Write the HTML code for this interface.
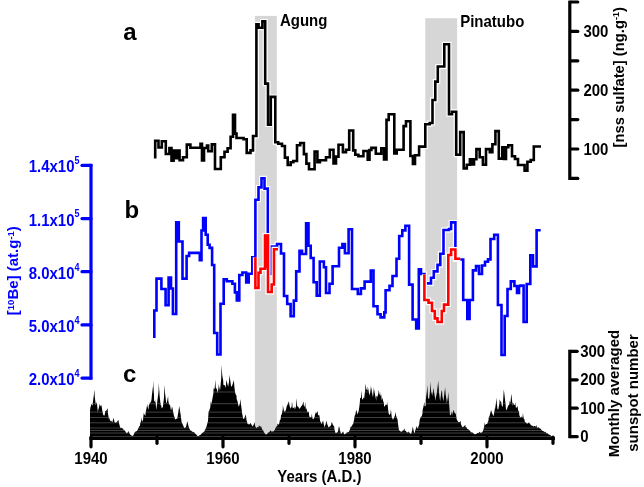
<!DOCTYPE html><html><head><meta charset="utf-8"><style>
html,body{margin:0;padding:0;background:#fff;}
svg{display:block;will-change:transform;}
text{font-family:'Liberation Sans', sans-serif;font-weight:bold;}
</style></head><body>
<svg width="644" height="487" viewBox="0 0 644 487">
<rect x="254.9" y="15.9" width="21.9" height="421.5" fill="#d6d6d6"/>
<rect x="425.3" y="18.2" width="31.8" height="419.2" fill="#d6d6d6"/>
<defs><clipPath id="ssclip"><polygon points="90.0,438.0 90.0,409.6 90.3,409.6 90.3,408.0 91.4,404.3 91.4,403.5 92.5,405.7 93.0,401.2 93.6,397.1 94.5,389.7 94.7,396.1 95.6,403.5 95.8,405.3 96.8,402.0 96.9,403.1 98.0,413.2 98.0,411.0 99.1,406.8 99.9,403.5 100.2,406.2 101.3,405.3 101.4,405.0 102.4,411.2 103.0,414.3 103.5,415.2 104.6,415.4 105.3,411.0 105.7,411.0 106.8,410.1 107.6,408.0 107.9,412.7 109.0,420.0 109.1,417.4 110.1,420.5 111.2,421.4 111.4,420.5 112.3,422.5 113.4,418.6 113.7,418.2 114.5,422.3 115.6,422.7 116.0,422.8 116.7,422.3 117.8,420.8 118.4,419.7 118.9,422.8 119.9,426.6 120.0,428.1 121.1,427.5 122.2,428.7 123.0,428.2 123.3,429.5 124.4,430.4 125.3,431.0 125.5,431.9 126.6,433.0 127.0,433.5 127.7,432.4 128.5,431.0 128.8,431.8 129.9,434.3 130.2,434.5 131.0,435.2 132.1,435.7 132.9,436.0 133.2,435.6 134.3,433.5 135.0,431.8 135.4,431.7 136.5,431.3 137.6,430.3 137.9,429.0 138.7,427.8 139.4,426.0 139.8,425.9 140.5,422.5 140.9,421.9 141.5,417.4 142.0,421.8 142.5,421.0 143.1,419.5 143.7,413.1 144.2,413.9 145.3,416.1 145.8,411.7 146.4,409.1 147.3,403.8 147.5,406.4 148.6,409.7 148.7,405.9 149.7,403.7 150.1,401.6 150.8,403.2 151.6,398.7 151.9,395.0 153.0,386.2 153.0,380.0 154.0,395.0 154.1,400.5 155.2,402.3 155.2,398.7 156.3,410.1 156.6,407.4 157.4,400.5 158.5,392.1 158.8,383.0 159.6,395.6 160.7,405.8 160.9,404.5 161.8,408.6 162.4,407.4 162.9,406.9 164.0,397.5 164.5,385.0 165.1,393.6 166.2,403.1 166.7,403.0 167.3,400.3 168.1,395.9 168.4,401.8 169.5,405.6 170.0,404.0 170.6,410.4 171.0,405.9 171.7,410.4 172.3,406.6 172.8,410.3 173.9,415.6 174.6,417.4 175.0,419.8 176.1,418.4 177.0,418.9 177.2,419.3 178.3,412.2 179.3,405.8 179.4,407.1 180.5,414.0 180.8,415.8 181.6,422.2 182.3,423.6 182.7,424.6 183.8,426.9 184.7,428.2 184.9,428.3 186.0,426.7 187.1,422.2 187.4,421.2 188.2,425.1 189.3,429.1 189.3,428.2 190.4,430.5 191.5,431.4 191.6,430.5 192.6,432.1 193.7,432.1 193.9,432.0 194.8,433.2 195.9,434.2 196.2,434.3 197.0,435.6 197.8,436.2 198.1,436.3 199.2,435.6 200.0,435.1 200.3,434.9 201.4,433.9 202.4,432.8 202.5,432.9 203.6,432.1 204.7,431.2 204.7,430.5 205.8,428.6 206.2,427.4 206.9,425.0 207.8,422.0 208.0,420.7 208.6,411.7 209.1,411.1 210.2,407.4 211.0,400.6 211.3,405.1 212.4,398.8 213.5,392.8 213.6,388.3 214.6,388.9 215.4,379.6 215.7,387.6 216.8,388.9 217.0,389.7 217.9,393.4 218.5,383.3 219.0,391.0 219.8,386.0 220.1,390.3 221.2,378.3 221.6,364.9 222.3,375.8 223.2,380.4 223.4,384.7 224.5,385.3 224.7,385.0 225.6,388.0 226.5,379.6 226.7,381.0 227.8,385.5 228.2,386.6 228.9,382.6 229.6,374.7 230.0,378.7 231.1,386.6 231.6,386.6 232.2,385.4 233.3,381.9 233.9,380.3 234.4,386.9 235.0,392.0 235.5,394.0 236.5,395.8 236.6,398.7 237.7,402.1 238.0,403.5 238.8,407.0 239.9,403.6 240.4,398.9 241.0,404.6 241.9,411.2 242.1,413.2 243.2,418.6 243.5,418.9 244.3,418.5 245.4,415.6 245.8,414.3 246.5,420.0 247.6,424.2 248.1,423.6 248.7,424.5 249.8,424.2 250.4,422.8 250.9,423.8 252.0,425.6 252.7,426.6 253.1,426.1 254.2,423.0 254.3,422.0 255.3,426.5 256.4,427.9 256.6,428.2 257.5,427.0 258.6,427.3 258.9,425.0 259.7,426.6 260.8,426.6 261.2,426.6 261.9,428.9 263.0,430.3 263.5,431.3 264.1,432.6 265.2,434.2 265.8,434.3 266.3,434.5 267.4,433.8 268.1,432.8 268.5,432.6 269.6,431.7 270.4,430.5 270.7,430.8 271.8,431.8 272.8,431.3 272.9,431.8 274.0,431.1 275.1,429.5 275.1,429.0 276.2,426.8 277.3,425.7 277.4,423.6 278.4,424.7 279.5,423.1 279.7,420.5 280.6,419.5 281.2,414.3 281.7,414.9 282.8,408.9 282.8,405.0 283.9,410.6 284.3,411.2 285.0,412.1 286.1,409.3 286.6,406.6 287.2,405.3 288.3,402.8 288.9,401.2 289.4,404.9 290.5,409.3 290.5,408.1 291.6,406.9 292.0,401.2 292.7,408.2 293.8,407.8 294.3,406.6 294.9,409.4 296.0,406.3 296.6,398.1 297.1,406.0 298.2,406.7 299.0,408.1 299.3,408.9 300.4,407.8 301.3,405.8 301.5,406.4 302.6,404.3 303.6,401.2 303.7,404.9 304.8,407.0 305.1,402.0 305.9,409.7 306.6,408.1 307.0,410.9 308.1,413.0 308.9,411.2 309.2,416.1 310.0,417.4 310.3,417.0 311.4,416.9 311.8,413.5 312.5,419.2 313.1,418.2 313.6,419.5 314.7,416.8 315.4,412.0 315.8,413.9 316.9,412.2 317.7,411.2 318.0,415.1 319.1,415.4 319.2,414.3 320.2,421.5 320.8,422.0 321.3,424.2 322.4,422.0 323.1,420.5 323.5,423.1 324.6,428.3 324.6,426.6 325.7,424.2 326.2,420.5 326.8,422.7 327.9,425.9 328.5,427.4 329.0,426.8 330.1,426.6 331.2,424.7 331.6,422.0 332.3,423.3 333.4,426.2 333.9,425.0 334.5,429.7 335.4,432.8 335.6,433.3 336.7,432.7 337.7,432.0 337.8,432.1 338.9,426.6 339.0,425.9 340.0,430.2 340.8,433.6 341.1,434.0 342.2,432.8 343.1,431.3 343.3,432.2 344.4,434.4 344.7,434.3 345.5,433.8 346.6,433.2 347.0,432.0 347.7,432.6 348.8,431.7 349.3,431.3 349.9,429.8 350.8,426.6 351.0,426.9 352.1,425.4 353.1,423.6 353.2,424.5 354.3,418.6 354.7,415.8 355.4,414.6 356.2,409.7 356.5,410.5 357.6,414.6 358.5,411.2 358.7,411.2 359.8,403.3 360.1,398.1 360.9,398.1 361.6,390.4 362.0,398.8 363.1,399.7 363.2,397.4 364.2,398.2 365.3,389.0 365.5,383.5 366.4,389.2 367.5,390.5 367.8,386.6 368.6,390.8 369.3,394.3 369.7,395.4 370.8,387.8 370.9,385.8 371.9,391.5 372.4,394.3 373.0,397.4 373.9,387.3 374.1,389.4 375.2,395.4 376.3,400.7 376.3,395.8 377.4,396.9 378.5,392.5 378.6,389.7 379.6,394.6 380.7,395.9 380.9,392.0 381.8,400.6 382.4,397.4 382.9,400.0 384.0,403.5 384.0,406.6 385.1,406.2 385.2,405.0 386.2,404.4 387.3,405.0 387.3,400.4 388.4,412.2 388.9,414.3 389.5,415.0 390.6,413.2 390.9,408.9 391.7,416.9 392.7,418.9 392.8,420.0 393.9,418.1 395.0,415.2 395.5,412.0 396.1,415.8 397.2,419.4 397.3,417.4 398.3,426.0 398.9,429.7 399.4,430.7 400.5,431.4 401.2,431.3 401.6,432.0 402.7,430.7 403.8,430.0 404.3,428.2 404.9,430.5 406.0,431.3 406.6,432.0 407.1,432.4 408.2,432.5 408.9,431.3 409.3,432.7 410.4,433.4 411.2,434.3 411.5,432.9 412.6,427.9 412.7,426.6 413.7,431.1 414.3,433.6 414.8,432.2 415.9,428.4 416.6,425.9 417.0,427.6 418.1,428.7 418.1,427.4 419.2,424.4 419.7,419.7 420.3,418.6 421.2,415.8 421.4,417.6 422.5,413.4 422.7,409.7 423.6,406.1 424.3,402.0 424.7,406.6 425.8,405.6 425.8,399.7 426.9,391.3 427.4,385.0 428.0,397.8 428.9,398.9 429.1,399.3 430.2,388.7 430.5,381.2 431.3,394.7 432.0,391.2 432.4,396.5 433.5,387.3 433.5,388.6 434.6,395.6 435.7,401.0 435.8,398.1 436.8,393.3 437.9,384.3 438.2,380.4 439.0,392.3 439.7,398.1 440.1,401.4 441.2,392.8 442.0,389.7 442.3,395.7 443.4,401.2 443.6,399.7 444.5,392.4 445.1,387.3 445.6,394.1 446.6,400.4 446.7,403.7 447.8,397.7 448.2,392.0 448.9,401.3 449.7,411.2 450.0,415.4 451.1,414.6 452.0,411.2 452.2,415.2 453.3,410.5 453.6,409.7 454.4,412.4 455.5,413.7 455.9,414.3 456.6,419.3 457.7,421.1 458.2,422.0 458.8,421.9 459.9,422.0 460.5,420.5 461.0,424.3 462.1,426.7 462.8,427.0 463.2,427.1 464.3,426.0 465.4,424.8 465.4,426.7 466.5,427.6 467.6,429.5 467.8,428.7 468.7,429.7 469.8,430.8 470.1,431.0 470.9,432.2 472.0,432.6 472.4,432.5 473.1,433.0 474.2,434.3 474.8,434.1 475.3,434.3 476.4,434.1 477.1,433.3 477.5,433.1 478.6,433.1 479.4,431.8 479.7,432.0 480.8,433.0 481.7,432.5 481.9,432.6 483.0,431.0 483.3,430.2 484.1,427.1 484.8,422.5 485.2,425.0 486.3,424.1 487.2,424.0 487.4,423.5 488.5,420.3 488.7,417.8 489.6,415.8 490.7,411.8 491.1,410.0 491.8,412.6 492.9,415.0 493.4,416.2 494.0,413.9 494.9,408.5 495.1,408.7 496.2,401.5 496.5,397.6 497.3,408.3 498.0,410.0 498.4,408.7 499.5,402.9 499.6,399.2 500.6,401.8 501.1,401.5 501.7,405.4 502.7,406.9 502.8,405.4 503.9,388.3 503.9,390.3 505.0,399.2 505.8,406.9 506.1,410.4 507.2,408.8 508.1,405.4 508.3,405.8 509.4,404.3 509.7,400.7 510.5,403.1 511.2,393.7 511.6,396.6 512.7,406.5 512.8,402.3 513.8,404.8 514.9,405.1 515.1,402.3 516.0,408.1 517.1,407.0 517.5,405.4 518.2,410.7 519.0,411.6 519.3,415.0 520.4,418.1 521.3,416.2 521.5,417.0 522.6,416.9 522.9,413.1 523.7,418.8 524.4,419.3 524.8,421.8 525.9,422.8 526.8,423.2 527.0,424.0 528.1,422.9 529.1,422.5 529.2,422.9 530.3,423.9 531.4,426.4 531.4,424.8 532.5,426.0 533.6,426.5 533.8,426.3 534.7,425.9 535.8,426.7 536.1,424.8 536.9,427.3 538.0,427.9 538.4,427.1 539.1,428.1 540.2,428.7 540.7,428.7 541.3,429.7 542.4,430.9 543.1,431.0 543.5,431.3 544.6,432.0 545.4,431.8 545.7,432.2 546.8,433.5 547.7,433.3 547.9,434.1 549.0,434.5 550.1,435.0 550.1,434.9 551.2,436.0 552.3,436.4 552.4,436.4 553.4,437.4 554.0,438.0 554.0,438.0"/></clipPath></defs>
<polygon points="90.0,438.0 90.0,409.6 90.3,409.6 90.3,408.0 91.4,404.3 91.4,403.5 92.5,405.7 93.0,401.2 93.6,397.1 94.5,389.7 94.7,396.1 95.6,403.5 95.8,405.3 96.8,402.0 96.9,403.1 98.0,413.2 98.0,411.0 99.1,406.8 99.9,403.5 100.2,406.2 101.3,405.3 101.4,405.0 102.4,411.2 103.0,414.3 103.5,415.2 104.6,415.4 105.3,411.0 105.7,411.0 106.8,410.1 107.6,408.0 107.9,412.7 109.0,420.0 109.1,417.4 110.1,420.5 111.2,421.4 111.4,420.5 112.3,422.5 113.4,418.6 113.7,418.2 114.5,422.3 115.6,422.7 116.0,422.8 116.7,422.3 117.8,420.8 118.4,419.7 118.9,422.8 119.9,426.6 120.0,428.1 121.1,427.5 122.2,428.7 123.0,428.2 123.3,429.5 124.4,430.4 125.3,431.0 125.5,431.9 126.6,433.0 127.0,433.5 127.7,432.4 128.5,431.0 128.8,431.8 129.9,434.3 130.2,434.5 131.0,435.2 132.1,435.7 132.9,436.0 133.2,435.6 134.3,433.5 135.0,431.8 135.4,431.7 136.5,431.3 137.6,430.3 137.9,429.0 138.7,427.8 139.4,426.0 139.8,425.9 140.5,422.5 140.9,421.9 141.5,417.4 142.0,421.8 142.5,421.0 143.1,419.5 143.7,413.1 144.2,413.9 145.3,416.1 145.8,411.7 146.4,409.1 147.3,403.8 147.5,406.4 148.6,409.7 148.7,405.9 149.7,403.7 150.1,401.6 150.8,403.2 151.6,398.7 151.9,395.0 153.0,386.2 153.0,380.0 154.0,395.0 154.1,400.5 155.2,402.3 155.2,398.7 156.3,410.1 156.6,407.4 157.4,400.5 158.5,392.1 158.8,383.0 159.6,395.6 160.7,405.8 160.9,404.5 161.8,408.6 162.4,407.4 162.9,406.9 164.0,397.5 164.5,385.0 165.1,393.6 166.2,403.1 166.7,403.0 167.3,400.3 168.1,395.9 168.4,401.8 169.5,405.6 170.0,404.0 170.6,410.4 171.0,405.9 171.7,410.4 172.3,406.6 172.8,410.3 173.9,415.6 174.6,417.4 175.0,419.8 176.1,418.4 177.0,418.9 177.2,419.3 178.3,412.2 179.3,405.8 179.4,407.1 180.5,414.0 180.8,415.8 181.6,422.2 182.3,423.6 182.7,424.6 183.8,426.9 184.7,428.2 184.9,428.3 186.0,426.7 187.1,422.2 187.4,421.2 188.2,425.1 189.3,429.1 189.3,428.2 190.4,430.5 191.5,431.4 191.6,430.5 192.6,432.1 193.7,432.1 193.9,432.0 194.8,433.2 195.9,434.2 196.2,434.3 197.0,435.6 197.8,436.2 198.1,436.3 199.2,435.6 200.0,435.1 200.3,434.9 201.4,433.9 202.4,432.8 202.5,432.9 203.6,432.1 204.7,431.2 204.7,430.5 205.8,428.6 206.2,427.4 206.9,425.0 207.8,422.0 208.0,420.7 208.6,411.7 209.1,411.1 210.2,407.4 211.0,400.6 211.3,405.1 212.4,398.8 213.5,392.8 213.6,388.3 214.6,388.9 215.4,379.6 215.7,387.6 216.8,388.9 217.0,389.7 217.9,393.4 218.5,383.3 219.0,391.0 219.8,386.0 220.1,390.3 221.2,378.3 221.6,364.9 222.3,375.8 223.2,380.4 223.4,384.7 224.5,385.3 224.7,385.0 225.6,388.0 226.5,379.6 226.7,381.0 227.8,385.5 228.2,386.6 228.9,382.6 229.6,374.7 230.0,378.7 231.1,386.6 231.6,386.6 232.2,385.4 233.3,381.9 233.9,380.3 234.4,386.9 235.0,392.0 235.5,394.0 236.5,395.8 236.6,398.7 237.7,402.1 238.0,403.5 238.8,407.0 239.9,403.6 240.4,398.9 241.0,404.6 241.9,411.2 242.1,413.2 243.2,418.6 243.5,418.9 244.3,418.5 245.4,415.6 245.8,414.3 246.5,420.0 247.6,424.2 248.1,423.6 248.7,424.5 249.8,424.2 250.4,422.8 250.9,423.8 252.0,425.6 252.7,426.6 253.1,426.1 254.2,423.0 254.3,422.0 255.3,426.5 256.4,427.9 256.6,428.2 257.5,427.0 258.6,427.3 258.9,425.0 259.7,426.6 260.8,426.6 261.2,426.6 261.9,428.9 263.0,430.3 263.5,431.3 264.1,432.6 265.2,434.2 265.8,434.3 266.3,434.5 267.4,433.8 268.1,432.8 268.5,432.6 269.6,431.7 270.4,430.5 270.7,430.8 271.8,431.8 272.8,431.3 272.9,431.8 274.0,431.1 275.1,429.5 275.1,429.0 276.2,426.8 277.3,425.7 277.4,423.6 278.4,424.7 279.5,423.1 279.7,420.5 280.6,419.5 281.2,414.3 281.7,414.9 282.8,408.9 282.8,405.0 283.9,410.6 284.3,411.2 285.0,412.1 286.1,409.3 286.6,406.6 287.2,405.3 288.3,402.8 288.9,401.2 289.4,404.9 290.5,409.3 290.5,408.1 291.6,406.9 292.0,401.2 292.7,408.2 293.8,407.8 294.3,406.6 294.9,409.4 296.0,406.3 296.6,398.1 297.1,406.0 298.2,406.7 299.0,408.1 299.3,408.9 300.4,407.8 301.3,405.8 301.5,406.4 302.6,404.3 303.6,401.2 303.7,404.9 304.8,407.0 305.1,402.0 305.9,409.7 306.6,408.1 307.0,410.9 308.1,413.0 308.9,411.2 309.2,416.1 310.0,417.4 310.3,417.0 311.4,416.9 311.8,413.5 312.5,419.2 313.1,418.2 313.6,419.5 314.7,416.8 315.4,412.0 315.8,413.9 316.9,412.2 317.7,411.2 318.0,415.1 319.1,415.4 319.2,414.3 320.2,421.5 320.8,422.0 321.3,424.2 322.4,422.0 323.1,420.5 323.5,423.1 324.6,428.3 324.6,426.6 325.7,424.2 326.2,420.5 326.8,422.7 327.9,425.9 328.5,427.4 329.0,426.8 330.1,426.6 331.2,424.7 331.6,422.0 332.3,423.3 333.4,426.2 333.9,425.0 334.5,429.7 335.4,432.8 335.6,433.3 336.7,432.7 337.7,432.0 337.8,432.1 338.9,426.6 339.0,425.9 340.0,430.2 340.8,433.6 341.1,434.0 342.2,432.8 343.1,431.3 343.3,432.2 344.4,434.4 344.7,434.3 345.5,433.8 346.6,433.2 347.0,432.0 347.7,432.6 348.8,431.7 349.3,431.3 349.9,429.8 350.8,426.6 351.0,426.9 352.1,425.4 353.1,423.6 353.2,424.5 354.3,418.6 354.7,415.8 355.4,414.6 356.2,409.7 356.5,410.5 357.6,414.6 358.5,411.2 358.7,411.2 359.8,403.3 360.1,398.1 360.9,398.1 361.6,390.4 362.0,398.8 363.1,399.7 363.2,397.4 364.2,398.2 365.3,389.0 365.5,383.5 366.4,389.2 367.5,390.5 367.8,386.6 368.6,390.8 369.3,394.3 369.7,395.4 370.8,387.8 370.9,385.8 371.9,391.5 372.4,394.3 373.0,397.4 373.9,387.3 374.1,389.4 375.2,395.4 376.3,400.7 376.3,395.8 377.4,396.9 378.5,392.5 378.6,389.7 379.6,394.6 380.7,395.9 380.9,392.0 381.8,400.6 382.4,397.4 382.9,400.0 384.0,403.5 384.0,406.6 385.1,406.2 385.2,405.0 386.2,404.4 387.3,405.0 387.3,400.4 388.4,412.2 388.9,414.3 389.5,415.0 390.6,413.2 390.9,408.9 391.7,416.9 392.7,418.9 392.8,420.0 393.9,418.1 395.0,415.2 395.5,412.0 396.1,415.8 397.2,419.4 397.3,417.4 398.3,426.0 398.9,429.7 399.4,430.7 400.5,431.4 401.2,431.3 401.6,432.0 402.7,430.7 403.8,430.0 404.3,428.2 404.9,430.5 406.0,431.3 406.6,432.0 407.1,432.4 408.2,432.5 408.9,431.3 409.3,432.7 410.4,433.4 411.2,434.3 411.5,432.9 412.6,427.9 412.7,426.6 413.7,431.1 414.3,433.6 414.8,432.2 415.9,428.4 416.6,425.9 417.0,427.6 418.1,428.7 418.1,427.4 419.2,424.4 419.7,419.7 420.3,418.6 421.2,415.8 421.4,417.6 422.5,413.4 422.7,409.7 423.6,406.1 424.3,402.0 424.7,406.6 425.8,405.6 425.8,399.7 426.9,391.3 427.4,385.0 428.0,397.8 428.9,398.9 429.1,399.3 430.2,388.7 430.5,381.2 431.3,394.7 432.0,391.2 432.4,396.5 433.5,387.3 433.5,388.6 434.6,395.6 435.7,401.0 435.8,398.1 436.8,393.3 437.9,384.3 438.2,380.4 439.0,392.3 439.7,398.1 440.1,401.4 441.2,392.8 442.0,389.7 442.3,395.7 443.4,401.2 443.6,399.7 444.5,392.4 445.1,387.3 445.6,394.1 446.6,400.4 446.7,403.7 447.8,397.7 448.2,392.0 448.9,401.3 449.7,411.2 450.0,415.4 451.1,414.6 452.0,411.2 452.2,415.2 453.3,410.5 453.6,409.7 454.4,412.4 455.5,413.7 455.9,414.3 456.6,419.3 457.7,421.1 458.2,422.0 458.8,421.9 459.9,422.0 460.5,420.5 461.0,424.3 462.1,426.7 462.8,427.0 463.2,427.1 464.3,426.0 465.4,424.8 465.4,426.7 466.5,427.6 467.6,429.5 467.8,428.7 468.7,429.7 469.8,430.8 470.1,431.0 470.9,432.2 472.0,432.6 472.4,432.5 473.1,433.0 474.2,434.3 474.8,434.1 475.3,434.3 476.4,434.1 477.1,433.3 477.5,433.1 478.6,433.1 479.4,431.8 479.7,432.0 480.8,433.0 481.7,432.5 481.9,432.6 483.0,431.0 483.3,430.2 484.1,427.1 484.8,422.5 485.2,425.0 486.3,424.1 487.2,424.0 487.4,423.5 488.5,420.3 488.7,417.8 489.6,415.8 490.7,411.8 491.1,410.0 491.8,412.6 492.9,415.0 493.4,416.2 494.0,413.9 494.9,408.5 495.1,408.7 496.2,401.5 496.5,397.6 497.3,408.3 498.0,410.0 498.4,408.7 499.5,402.9 499.6,399.2 500.6,401.8 501.1,401.5 501.7,405.4 502.7,406.9 502.8,405.4 503.9,388.3 503.9,390.3 505.0,399.2 505.8,406.9 506.1,410.4 507.2,408.8 508.1,405.4 508.3,405.8 509.4,404.3 509.7,400.7 510.5,403.1 511.2,393.7 511.6,396.6 512.7,406.5 512.8,402.3 513.8,404.8 514.9,405.1 515.1,402.3 516.0,408.1 517.1,407.0 517.5,405.4 518.2,410.7 519.0,411.6 519.3,415.0 520.4,418.1 521.3,416.2 521.5,417.0 522.6,416.9 522.9,413.1 523.7,418.8 524.4,419.3 524.8,421.8 525.9,422.8 526.8,423.2 527.0,424.0 528.1,422.9 529.1,422.5 529.2,422.9 530.3,423.9 531.4,426.4 531.4,424.8 532.5,426.0 533.6,426.5 533.8,426.3 534.7,425.9 535.8,426.7 536.1,424.8 536.9,427.3 538.0,427.9 538.4,427.1 539.1,428.1 540.2,428.7 540.7,428.7 541.3,429.7 542.4,430.9 543.1,431.0 543.5,431.3 544.6,432.0 545.4,431.8 545.7,432.2 546.8,433.5 547.7,433.3 547.9,434.1 549.0,434.5 550.1,435.0 550.1,434.9 551.2,436.0 552.3,436.4 552.4,436.4 553.4,437.4 554.0,438.0 554.0,438.0" fill="#000"/>
<g clip-path="url(#ssclip)" stroke="#505050" stroke-width="0.8">
<line x1="88" y1="392" x2="556" y2="392"/>
<line x1="88" y1="403.7" x2="556" y2="403.7"/>
<line x1="88" y1="412.1" x2="556" y2="412.1"/>
<line x1="88" y1="417.5" x2="556" y2="417.5"/>
<line x1="88" y1="422.8" x2="556" y2="422.8"/>
<line x1="88" y1="428" x2="556" y2="428"/>
<line x1="88" y1="430.5" x2="556" y2="430.5"/>
<line x1="88" y1="433" x2="556" y2="433"/>
<line x1="88" y1="436.6" x2="556" y2="436.6"/>
</g>
<path d="M155.2 158.6L155.2 140.8L158.5 140.8L158.5 147.5L161.8 147.5L161.8 141.2L165.8 141.2L165.8 154.0L169.4 154.0L169.4 148.0L171.5 148.0L171.5 160.6L173.6 160.6L173.6 150.5L176.0 150.5L176.0 158.3L178.0 158.3L178.0 150.6L179.6 150.6L179.6 160.2L183.0 160.2L183.0 157.2L186.8 157.2L186.8 144.6L190.4 144.6L190.4 147.8L200.5 147.8L200.5 143.8L202.0 143.8L202.0 160.4L204.0 160.4L204.0 148.0L207.0 148.0L207.0 145.5L208.2 145.5L208.2 151.3L211.8 151.3L211.8 144.4L215.0 144.4L215.0 169.0L220.8 169.0L220.8 157.3L224.5 157.3L224.5 151.8L227.6 151.8L227.6 148.3L230.6 148.3L230.6 136.7L233.0 136.7L233.0 114.7L235.0 114.7L235.0 133.6L236.5 133.6L236.5 138.0L243.6 138.0L243.6 139.2L246.7 139.2L246.7 152.9L250.5 152.9L250.5 150.4L253.0 150.4L253.0 136.0L256.4 136.0L256.4 24.3L258.6 24.3L258.6 27.8L262.4 27.8L262.4 21.4L265.2 21.4L265.2 83.6L268.0 83.6L268.0 124.6L270.8 124.6L270.8 96.9L275.3 96.9L275.3 142.3L278.2 142.3L278.2 143.8L282.0 143.8L282.0 146.0L284.9 146.0L284.9 157.6L287.7 157.6L287.7 165.0L290.7 165.0L290.7 162.3L293.3 162.3L293.3 161.0L297.0 161.0L297.0 145.3L300.2 145.3L300.2 143.0L303.9 143.0L303.9 154.1L306.4 154.1L306.4 163.6L309.0 163.6L309.0 169.3L314.6 169.3L314.6 151.6L317.4 151.6L317.4 162.2L319.9 162.2L319.9 160.3L326.0 160.3L326.0 157.2L329.8 157.2L329.8 149.8L333.5 149.8L333.5 163.4L336.0 163.4L336.0 156.6L338.5 156.6L338.5 144.8L342.9 144.8L342.9 152.2L346.0 152.2L346.0 149.8L349.2 149.8L349.2 130.5L353.2 130.5L353.2 150.4L355.3 150.4L355.3 154.7L358.4 154.7L358.4 156.2L363.4 156.2L363.4 151.0L367.7 151.0L367.7 159.7L369.5 159.7L369.5 150.0L371.4 150.0L371.4 147.9L375.8 147.9L375.8 153.8L381.3 153.8L381.3 148.3L384.0 148.3L384.0 159.5L386.5 159.5L386.5 119.9L388.7 119.9L388.7 114.3L394.3 114.3L394.3 153.5L396.7 153.5L396.7 149.8L403.6 149.8L403.6 126.1L406.0 126.1L406.0 121.2L410.4 121.2L410.4 156.0L412.9 156.0L412.9 164.0L415.0 164.0L415.0 155.3L419.1 155.3L419.1 146.6L425.3 146.6L425.3 124.3L429.7 124.3L429.7 123.0L432.5 123.0L432.5 100.0L435.3 100.0L435.3 81.6L437.8 81.6L437.8 66.5L444.3 66.5L444.3 44.2L449.0 44.2L449.0 114.2L452.0 114.2L452.0 111.7L456.2 111.7L456.2 154.7L460.2 154.7L460.2 132.1L463.7 132.1L463.7 168.4L466.8 168.4L466.8 164.7L469.9 164.7L469.9 159.3L472.0 159.3L472.0 164.5L474.0 164.5L474.0 159.3L476.4 159.3L476.4 149.1L479.7 149.1L479.7 157.2L482.9 157.2L482.9 164.7L486.0 164.7L486.0 149.1L489.8 149.1L489.8 152.2L492.4 152.2L492.4 144.2L495.4 144.2L495.4 131.1L498.8 131.1L498.8 158.6L502.3 158.6L502.3 147.2L504.0 147.2L504.0 159.0L506.0 159.0L506.0 147.2L508.3 147.2L508.3 145.3L512.0 145.3L512.0 156.2L515.0 156.2L515.0 159.0L518.0 159.0L518.0 165.0L524.6 165.0L524.6 170.6L527.4 170.6L527.4 161.7L530.7 161.7L530.7 160.0L533.8 160.0L533.8 146.5L541.0 146.5" fill="none" stroke="#fff" stroke-width="5.0" stroke-linejoin="miter" stroke-linecap="square"/>
<path d="M155.2 158.6L155.2 140.8L158.5 140.8L158.5 147.5L161.8 147.5L161.8 141.2L165.8 141.2L165.8 154.0L169.4 154.0L169.4 148.0L171.5 148.0L171.5 160.6L173.6 160.6L173.6 150.5L176.0 150.5L176.0 158.3L178.0 158.3L178.0 150.6L179.6 150.6L179.6 160.2L183.0 160.2L183.0 157.2L186.8 157.2L186.8 144.6L190.4 144.6L190.4 147.8L200.5 147.8L200.5 143.8L202.0 143.8L202.0 160.4L204.0 160.4L204.0 148.0L207.0 148.0L207.0 145.5L208.2 145.5L208.2 151.3L211.8 151.3L211.8 144.4L215.0 144.4L215.0 169.0L220.8 169.0L220.8 157.3L224.5 157.3L224.5 151.8L227.6 151.8L227.6 148.3L230.6 148.3L230.6 136.7L233.0 136.7L233.0 114.7L235.0 114.7L235.0 133.6L236.5 133.6L236.5 138.0L243.6 138.0L243.6 139.2L246.7 139.2L246.7 152.9L250.5 152.9L250.5 150.4L253.0 150.4L253.0 136.0L256.4 136.0L256.4 24.3L258.6 24.3L258.6 27.8L262.4 27.8L262.4 21.4L265.2 21.4L265.2 83.6L268.0 83.6L268.0 124.6L270.8 124.6L270.8 96.9L275.3 96.9L275.3 142.3L278.2 142.3L278.2 143.8L282.0 143.8L282.0 146.0L284.9 146.0L284.9 157.6L287.7 157.6L287.7 165.0L290.7 165.0L290.7 162.3L293.3 162.3L293.3 161.0L297.0 161.0L297.0 145.3L300.2 145.3L300.2 143.0L303.9 143.0L303.9 154.1L306.4 154.1L306.4 163.6L309.0 163.6L309.0 169.3L314.6 169.3L314.6 151.6L317.4 151.6L317.4 162.2L319.9 162.2L319.9 160.3L326.0 160.3L326.0 157.2L329.8 157.2L329.8 149.8L333.5 149.8L333.5 163.4L336.0 163.4L336.0 156.6L338.5 156.6L338.5 144.8L342.9 144.8L342.9 152.2L346.0 152.2L346.0 149.8L349.2 149.8L349.2 130.5L353.2 130.5L353.2 150.4L355.3 150.4L355.3 154.7L358.4 154.7L358.4 156.2L363.4 156.2L363.4 151.0L367.7 151.0L367.7 159.7L369.5 159.7L369.5 150.0L371.4 150.0L371.4 147.9L375.8 147.9L375.8 153.8L381.3 153.8L381.3 148.3L384.0 148.3L384.0 159.5L386.5 159.5L386.5 119.9L388.7 119.9L388.7 114.3L394.3 114.3L394.3 153.5L396.7 153.5L396.7 149.8L403.6 149.8L403.6 126.1L406.0 126.1L406.0 121.2L410.4 121.2L410.4 156.0L412.9 156.0L412.9 164.0L415.0 164.0L415.0 155.3L419.1 155.3L419.1 146.6L425.3 146.6L425.3 124.3L429.7 124.3L429.7 123.0L432.5 123.0L432.5 100.0L435.3 100.0L435.3 81.6L437.8 81.6L437.8 66.5L444.3 66.5L444.3 44.2L449.0 44.2L449.0 114.2L452.0 114.2L452.0 111.7L456.2 111.7L456.2 154.7L460.2 154.7L460.2 132.1L463.7 132.1L463.7 168.4L466.8 168.4L466.8 164.7L469.9 164.7L469.9 159.3L472.0 159.3L472.0 164.5L474.0 164.5L474.0 159.3L476.4 159.3L476.4 149.1L479.7 149.1L479.7 157.2L482.9 157.2L482.9 164.7L486.0 164.7L486.0 149.1L489.8 149.1L489.8 152.2L492.4 152.2L492.4 144.2L495.4 144.2L495.4 131.1L498.8 131.1L498.8 158.6L502.3 158.6L502.3 147.2L504.0 147.2L504.0 159.0L506.0 159.0L506.0 147.2L508.3 147.2L508.3 145.3L512.0 145.3L512.0 156.2L515.0 156.2L515.0 159.0L518.0 159.0L518.0 165.0L524.6 165.0L524.6 170.6L527.4 170.6L527.4 161.7L530.7 161.7L530.7 160.0L533.8 160.0L533.8 146.5L541.0 146.5" fill="none" stroke="#000" stroke-width="2.6" stroke-linejoin="miter" stroke-linecap="butt"/>
<path d="M154.3 338.0L154.3 310.5L156.5 310.5L156.5 278.6L161.4 278.6L161.4 289.0L165.6 289.0L165.6 305.2L168.6 305.2L168.6 277.6L171.0 277.6L171.0 288.5L172.9 288.5L172.9 314.0L176.2 314.0L176.2 222.4L178.8 222.4L178.8 241.5L182.5 241.5L182.5 278.6L186.6 278.6L186.6 256.0L189.1 256.0L189.1 252.9L199.8 252.9L199.8 260.3L201.5 260.3L201.5 230.5L203.1 230.5L203.1 218.0L205.7 218.0L205.7 234.8L207.7 234.8L207.7 244.8L209.6 244.8L209.6 247.9L212.1 247.9L212.1 265.0L214.2 265.0L214.2 333.0L217.2 333.0L217.2 354.5L220.5 354.5L220.5 303.7L223.7 303.7L223.7 279.3L226.8 279.3L226.8 281.2L232.4 281.2L232.4 283.7L234.9 283.7L234.9 292.4L236.8 292.4L236.8 300.4L239.3 300.4L239.3 275.0L242.4 275.0L242.4 272.5L246.2 272.5L246.2 282.4L248.7 282.4L248.7 273.7L252.3 273.7L252.3 257.3L255.4 257.3L255.4 199.8L258.5 199.8L258.5 187.4L261.5 187.4L261.5 178.3L264.5 178.3L264.5 188.6L267.8 188.6L267.8 274.0L271.5 274.0L271.5 246.5L277.0 246.5L277.0 244.0L281.0 244.0L281.0 253.5L284.0 253.5L284.0 296.0L287.2 296.0L287.2 304.0L290.6 304.0L290.6 316.3L293.8 316.3L293.8 300.6L296.2 300.6L296.2 271.4L299.5 271.4L299.5 250.8L302.0 250.8L302.0 254.0L306.1 254.0L306.1 223.2L308.5 223.2L308.5 245.8L310.7 245.8L310.7 258.0L313.6 258.0L313.6 282.2L316.7 282.2L316.7 295.6L319.8 295.6L319.8 261.5L323.9 261.5L323.9 267.3L326.0 267.3L326.0 293.0L329.5 293.0L329.5 283.7L332.6 283.7L332.6 266.3L339.0 266.3L339.0 247.7L342.4 247.7L342.4 244.0L344.9 244.0L344.9 253.3L348.6 253.3L348.6 229.2L352.0 229.2L352.0 289.0L357.8 289.0L357.8 294.0L360.9 294.0L360.9 288.4L364.6 288.4L364.6 281.6L370.8 281.6L370.8 270.5L373.5 270.5L373.5 306.3L377.5 306.3L377.5 314.3L380.6 314.3L380.6 317.4L384.3 317.4L384.3 312.4L385.6 312.4L385.6 290.2L389.5 290.2L389.5 285.9L392.5 285.9L392.5 276.0L396.5 276.0L396.5 258.7L399.2 258.7L399.2 236.0L402.3 236.0L402.3 230.4L405.4 230.4L405.4 225.8L409.1 225.8L409.1 284.6L412.6 284.6L412.6 319.5L416.2 319.5L416.2 328.5L418.8 328.5L418.8 269.2L421.0 269.2L421.0 274.0L424.5 274.0L424.5 283.4L431.0 283.4L431.0 277.8L433.8 277.8L433.8 271.4L437.5 271.4L437.5 264.9L440.3 264.9L440.3 253.8L443.5 253.8L443.5 230.0L449.0 230.0L449.0 229.0L451.1 229.0L451.1 222.4L455.4 222.4L455.4 259.5L463.2 259.5L463.2 300.0L467.3 300.0L467.3 319.0L469.6 319.0L469.6 300.0L472.9 300.0L472.9 270.4L476.0 270.4L476.0 266.1L479.0 266.1L479.0 274.0L482.0 274.0L482.0 265.5L485.0 265.5L485.0 261.8L488.0 261.8L488.0 259.4L490.5 259.4L490.5 239.0L494.2 239.0L494.2 234.7L497.9 234.7L497.9 305.0L501.5 305.0L501.5 355.0L504.7 355.0L504.7 316.0L507.5 316.0L507.5 289.0L510.8 289.0L510.8 281.4L514.4 281.4L514.4 286.0L517.0 286.0L517.0 293.0L519.0 293.0L519.0 286.0L520.5 286.0L520.5 285.5L523.6 285.5L523.6 322.0L526.7 322.0L526.7 284.0L530.3 284.0L530.3 255.2L533.0 255.2L533.0 266.4L536.6 266.4L536.6 230.3L540.7 230.3" fill="none" stroke="#fff" stroke-width="5.0" stroke-linejoin="miter" stroke-linecap="square"/>
<path d="M154.3 338.0L154.3 310.5L156.5 310.5L156.5 278.6L161.4 278.6L161.4 289.0L165.6 289.0L165.6 305.2L168.6 305.2L168.6 277.6L171.0 277.6L171.0 288.5L172.9 288.5L172.9 314.0L176.2 314.0L176.2 222.4L178.8 222.4L178.8 241.5L182.5 241.5L182.5 278.6L186.6 278.6L186.6 256.0L189.1 256.0L189.1 252.9L199.8 252.9L199.8 260.3L201.5 260.3L201.5 230.5L203.1 230.5L203.1 218.0L205.7 218.0L205.7 234.8L207.7 234.8L207.7 244.8L209.6 244.8L209.6 247.9L212.1 247.9L212.1 265.0L214.2 265.0L214.2 333.0L217.2 333.0L217.2 354.5L220.5 354.5L220.5 303.7L223.7 303.7L223.7 279.3L226.8 279.3L226.8 281.2L232.4 281.2L232.4 283.7L234.9 283.7L234.9 292.4L236.8 292.4L236.8 300.4L239.3 300.4L239.3 275.0L242.4 275.0L242.4 272.5L246.2 272.5L246.2 282.4L248.7 282.4L248.7 273.7L252.3 273.7L252.3 257.3L255.4 257.3L255.4 199.8L258.5 199.8L258.5 187.4L261.5 187.4L261.5 178.3L264.5 178.3L264.5 188.6L267.8 188.6L267.8 274.0L271.5 274.0L271.5 246.5L277.0 246.5L277.0 244.0L281.0 244.0L281.0 253.5L284.0 253.5L284.0 296.0L287.2 296.0L287.2 304.0L290.6 304.0L290.6 316.3L293.8 316.3L293.8 300.6L296.2 300.6L296.2 271.4L299.5 271.4L299.5 250.8L302.0 250.8L302.0 254.0L306.1 254.0L306.1 223.2L308.5 223.2L308.5 245.8L310.7 245.8L310.7 258.0L313.6 258.0L313.6 282.2L316.7 282.2L316.7 295.6L319.8 295.6L319.8 261.5L323.9 261.5L323.9 267.3L326.0 267.3L326.0 293.0L329.5 293.0L329.5 283.7L332.6 283.7L332.6 266.3L339.0 266.3L339.0 247.7L342.4 247.7L342.4 244.0L344.9 244.0L344.9 253.3L348.6 253.3L348.6 229.2L352.0 229.2L352.0 289.0L357.8 289.0L357.8 294.0L360.9 294.0L360.9 288.4L364.6 288.4L364.6 281.6L370.8 281.6L370.8 270.5L373.5 270.5L373.5 306.3L377.5 306.3L377.5 314.3L380.6 314.3L380.6 317.4L384.3 317.4L384.3 312.4L385.6 312.4L385.6 290.2L389.5 290.2L389.5 285.9L392.5 285.9L392.5 276.0L396.5 276.0L396.5 258.7L399.2 258.7L399.2 236.0L402.3 236.0L402.3 230.4L405.4 230.4L405.4 225.8L409.1 225.8L409.1 284.6L412.6 284.6L412.6 319.5L416.2 319.5L416.2 328.5L418.8 328.5L418.8 269.2L421.0 269.2L421.0 274.0L424.5 274.0L424.5 283.4L431.0 283.4L431.0 277.8L433.8 277.8L433.8 271.4L437.5 271.4L437.5 264.9L440.3 264.9L440.3 253.8L443.5 253.8L443.5 230.0L449.0 230.0L449.0 229.0L451.1 229.0L451.1 222.4L455.4 222.4L455.4 259.5L463.2 259.5L463.2 300.0L467.3 300.0L467.3 319.0L469.6 319.0L469.6 300.0L472.9 300.0L472.9 270.4L476.0 270.4L476.0 266.1L479.0 266.1L479.0 274.0L482.0 274.0L482.0 265.5L485.0 265.5L485.0 261.8L488.0 261.8L488.0 259.4L490.5 259.4L490.5 239.0L494.2 239.0L494.2 234.7L497.9 234.7L497.9 305.0L501.5 305.0L501.5 355.0L504.7 355.0L504.7 316.0L507.5 316.0L507.5 289.0L510.8 289.0L510.8 281.4L514.4 281.4L514.4 286.0L517.0 286.0L517.0 293.0L519.0 293.0L519.0 286.0L520.5 286.0L520.5 285.5L523.6 285.5L523.6 322.0L526.7 322.0L526.7 284.0L530.3 284.0L530.3 255.2L533.0 255.2L533.0 266.4L536.6 266.4L536.6 230.3L540.7 230.3" fill="none" stroke="#0000ff" stroke-width="2.6" stroke-linejoin="miter" stroke-linecap="butt"/>
<path d="M255.4 257.3L255.4 288.0L258.5 288.0L258.5 272.7L260.5 272.7L260.5 268.8L265.0 268.8L265.0 235.5L268.0 235.5L268.0 292.0L271.7 292.0L271.7 284.5L274.0 284.5L274.0 249.3L278.0 249.3" fill="none" stroke="#fff" stroke-width="5.0" stroke-linejoin="miter"/>
<path d="M424.4 274.2L424.4 300.0L428.5 300.0L428.5 302.7L432.0 302.7L432.0 311.0L434.8 311.0L434.8 318.4L437.5 318.4L437.5 322.0L441.8 322.0L441.8 311.0L444.0 311.0L444.0 304.6L448.3 304.6L448.3 255.0L451.1 255.0L451.1 249.5L455.4 249.5L455.4 258.7L460.3 258.7" fill="none" stroke="#fff" stroke-width="5.0" stroke-linejoin="miter"/>
<path d="M255.4 257.3L255.4 288.0L258.5 288.0L258.5 272.7L260.5 272.7L260.5 268.8L265.0 268.8L265.0 235.5L268.0 235.5L268.0 292.0L271.7 292.0L271.7 284.5L274.0 284.5L274.0 249.3L278.0 249.3" fill="none" stroke="#ff0000" stroke-width="2.6" stroke-linejoin="miter"/>
<path d="M424.4 274.2L424.4 300.0L428.5 300.0L428.5 302.7L432.0 302.7L432.0 311.0L434.8 311.0L434.8 318.4L437.5 318.4L437.5 322.0L441.8 322.0L441.8 311.0L444.0 311.0L444.0 304.6L448.3 304.6L448.3 255.0L451.1 255.0L451.1 249.5L455.4 249.5L455.4 258.7L460.3 258.7" fill="none" stroke="#ff0000" stroke-width="2.6" stroke-linejoin="miter"/>
<rect x="264.2" y="234.6" width="4.6" height="33.6" fill="#ff0000"/>
<line x1="89.4" y1="438.5" x2="555" y2="438.5" stroke="#000" stroke-width="3.2"/>
<line x1="91.0" y1="437" x2="91.0" y2="446.8" stroke="#000" stroke-width="3.2" stroke-linecap="round"/>
<line x1="157.0" y1="437" x2="157.0" y2="443.3" stroke="#000" stroke-width="3.2" stroke-linecap="round"/>
<line x1="223.0" y1="437" x2="223.0" y2="446.8" stroke="#000" stroke-width="3.2" stroke-linecap="round"/>
<line x1="289.0" y1="437" x2="289.0" y2="443.3" stroke="#000" stroke-width="3.2" stroke-linecap="round"/>
<line x1="355.0" y1="437" x2="355.0" y2="446.8" stroke="#000" stroke-width="3.2" stroke-linecap="round"/>
<line x1="421.0" y1="437" x2="421.0" y2="443.3" stroke="#000" stroke-width="3.2" stroke-linecap="round"/>
<line x1="487.0" y1="437" x2="487.0" y2="446.8" stroke="#000" stroke-width="3.2" stroke-linecap="round"/>
<line x1="553.0" y1="437" x2="553.0" y2="443.3" stroke="#000" stroke-width="3.2" stroke-linecap="round"/>
<text transform="translate(91.0 464.4) scale(1 1.05)" font-size="15" text-anchor="middle">1940</text>
<text transform="translate(223.0 464.4) scale(1 1.05)" font-size="15" text-anchor="middle">1960</text>
<text transform="translate(355.0 464.4) scale(1 1.05)" font-size="15" text-anchor="middle">1980</text>
<text transform="translate(487.0 464.4) scale(1 1.05)" font-size="15" text-anchor="middle">2000</text>
<text transform="translate(277.3 481.5) scale(1 1.1)" font-size="15">Years (A.D.)</text>
<line x1="569.8" y1="0.6" x2="569.8" y2="180" stroke="#000" stroke-width="3.2"/>
<line x1="571" y1="178.4" x2="577.8" y2="178.4" stroke="#000" stroke-width="3.2" stroke-linecap="round"/>
<line x1="571" y1="149.0" x2="577.8" y2="149.0" stroke="#000" stroke-width="3.2" stroke-linecap="round"/>
<line x1="571" y1="119.6" x2="577.8" y2="119.6" stroke="#000" stroke-width="3.2" stroke-linecap="round"/>
<line x1="571" y1="90.2" x2="577.8" y2="90.2" stroke="#000" stroke-width="3.2" stroke-linecap="round"/>
<line x1="571" y1="60.8" x2="577.8" y2="60.8" stroke="#000" stroke-width="3.2" stroke-linecap="round"/>
<line x1="571" y1="31.4" x2="577.8" y2="31.4" stroke="#000" stroke-width="3.2" stroke-linecap="round"/>
<line x1="571" y1="2.0" x2="577.8" y2="2.0" stroke="#000" stroke-width="3.2" stroke-linecap="round"/>
<text transform="translate(583.4 154.6) scale(1 1.05)" font-size="15">100</text>
<text transform="translate(583.4 95.7) scale(1 1.05)" font-size="15">200</text>
<text transform="translate(583.4 36.9) scale(1 1.05)" font-size="15">300</text>
<line x1="569.8" y1="349.7" x2="569.8" y2="438.2" stroke="#000" stroke-width="3.2"/>
<line x1="571" y1="436.7" x2="577.2" y2="436.7" stroke="#000" stroke-width="3.2" stroke-linecap="round"/>
<text transform="translate(580.2 442.3) scale(1 1.05)" font-size="15">0</text>
<line x1="571" y1="408.2" x2="577.2" y2="408.2" stroke="#000" stroke-width="3.2" stroke-linecap="round"/>
<text transform="translate(580.2 413.8) scale(1 1.05)" font-size="15">100</text>
<line x1="571" y1="379.8" x2="577.2" y2="379.8" stroke="#000" stroke-width="3.2" stroke-linecap="round"/>
<text transform="translate(580.2 385.4) scale(1 1.05)" font-size="15">200</text>
<line x1="571" y1="351.3" x2="577.2" y2="351.3" stroke="#000" stroke-width="3.2" stroke-linecap="round"/>
<text transform="translate(580.2 356.9) scale(1 1.05)" font-size="15">300</text>
<line x1="91" y1="163.8" x2="91" y2="379.7" stroke="#0000ff" stroke-width="3.2"/>
<line x1="82" y1="165.4" x2="91" y2="165.4" stroke="#0000ff" stroke-width="3.2" stroke-linecap="round"/>
<text transform="translate(79.5 172.3) scale(1 1.12)" font-size="15" fill="#0000ff" text-anchor="end">1.4x10<tspan font-size="9" dy="-7.2">5</tspan></text>
<line x1="82" y1="218.6" x2="91" y2="218.6" stroke="#0000ff" stroke-width="3.2" stroke-linecap="round"/>
<text transform="translate(79.5 225.5) scale(1 1.12)" font-size="15" fill="#0000ff" text-anchor="end">1.1x10<tspan font-size="9" dy="-7.2">5</tspan></text>
<line x1="82" y1="271.7" x2="91" y2="271.7" stroke="#0000ff" stroke-width="3.2" stroke-linecap="round"/>
<text transform="translate(79.5 278.6) scale(1 1.12)" font-size="15" fill="#0000ff" text-anchor="end">8.0x10<tspan font-size="9" dy="-7.2">4</tspan></text>
<line x1="82" y1="324.9" x2="91" y2="324.9" stroke="#0000ff" stroke-width="3.2" stroke-linecap="round"/>
<text transform="translate(79.5 331.8) scale(1 1.12)" font-size="15" fill="#0000ff" text-anchor="end">5.0x10<tspan font-size="9" dy="-7.2">4</tspan></text>
<line x1="82" y1="378.1" x2="91" y2="378.1" stroke="#0000ff" stroke-width="3.2" stroke-linecap="round"/>
<text transform="translate(79.5 385.0) scale(1 1.12)" font-size="15" fill="#0000ff" text-anchor="end">2.0x10<tspan font-size="9" dy="-7.2">4</tspan></text>
<text x="123.3" y="40" font-size="24">a</text>
<text x="124.6" y="218" font-size="24">b</text>
<text x="123" y="381.5" font-size="24">c</text>
<text transform="translate(280 25.5) scale(1 1.1)" font-size="15">Agung</text>
<text transform="translate(460.2 26.6) scale(1 1.1)" font-size="15">Pinatubo</text>
<text transform="translate(17.7 315.2) rotate(-90)" font-size="15" fill="#0000ff">[<tspan font-size="9.5" dy="-4.2">10</tspan><tspan dy="4.2">Be] (at.g</tspan><tspan font-size="9.5" dy="-4.2">-1</tspan><tspan dy="4.2">)</tspan></text>
<text transform="translate(623.5 147.4) rotate(-90)" font-size="14.8">[nss sulfate] (ng.g<tspan font-size="9" dy="-4.4">-1</tspan><tspan dy="4.4">)</tspan></text>
<text transform="translate(619.4 393.5) rotate(-90)" font-size="15" text-anchor="middle">Monthly averaged</text>
<text transform="translate(638 393) rotate(-90)" font-size="15" text-anchor="middle">sunspot number</text>
</svg></body></html>
